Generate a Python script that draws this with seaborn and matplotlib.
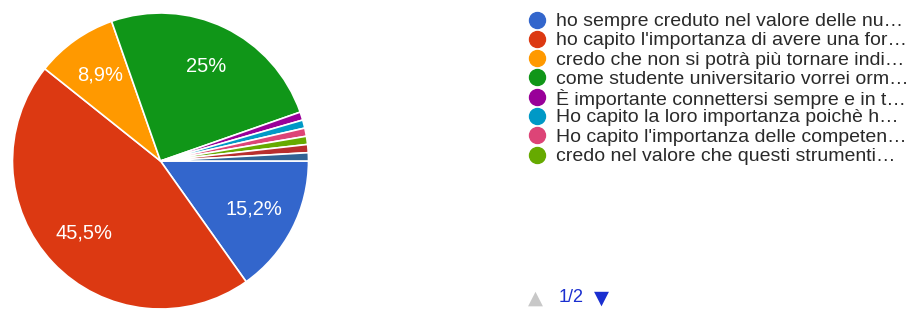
import matplotlib
matplotlib.use('Agg')
import matplotlib.pyplot as plt
from matplotlib.lines import Line2D
import seaborn as sns

# answers (legend page 1 of 2, truncated like the form summary)
labels = [
    'ho sempre creduto nel valore delle nu…',
    "ho capito l'importanza di avere una for…",
    'credo che non si potrà più tornare indi…',
    'come studente universitario vorrei orm…',
    'È importante connettersi sempre e in t…',
    'Ho capito la loro importanza poichè h…',
    "Ho capito l'importanza delle competen…",
    'credo nel valore che questi strumenti…',
    'risposta 9',
    'risposta 10',
]
counts = [17, 51, 10, 28, 1, 1, 1, 1, 1, 1]
colors = ['#3366cc', '#dc3912', '#ff9900', '#109618', '#990099',
          '#0099c6', '#dd4477', '#66aa00', '#b82e2e', '#316395']
legend_page = 8

sns.set_theme(style='white')
plt.rcParams['font.family'] = ['Liberation Sans', 'DejaVu Sans']

fig = plt.figure(figsize=(9.15, 3.09), dpi=100)
W, H = 915, 309

# pie area
cx, cy, r = 160.5, 161, 148
ax = fig.add_axes([(cx - r) / W, (H - cy - r) / H, 2 * r / W, 2 * r / H])


def pct_label(p):
    if p < 5:
        return ''
    s = f'{p:.1f}'
    if s.endswith('.0'):
        s = s[:-2]
    return s.replace('.', ',') + '%'


wedges, texts, autotexts = ax.pie(
    counts, colors=colors, startangle=0, counterclock=False,
    autopct=pct_label, pctdistance=0.71, radius=1,
    wedgeprops=dict(edgecolor='white', linewidth=1.2),
    textprops=dict(color='white', fontsize=14.5))
ax.set_xlim(-1, 1)
ax.set_ylim(-1, 1)
ax.set_aspect('equal')
ax.axis('off')

# legend, one row per answer
row0, pitch = 19.5, 19.3
for i, (lab, c) in enumerate(zip(labels[:legend_page], colors)):
    y = 1 - (row0 + i * pitch) / H
    fig.add_artist(Line2D([537 / W], [y], marker='o', linestyle='',
                          markersize=11.5, markerfacecolor=c,
                          markeredgecolor=c, transform=fig.transFigure))
    fig.text(556.5 / W, y, lab, fontsize=14, color='#2a2a2a',
             ha='left', va='center_baseline')

# page navigation
fig.text(535 / W, 1 - 298 / H, '▲', color='#c8c8c8', fontsize=14,
         ha='center', va='center', family=['DejaVu Sans'])
fig.text(559 / W, 1 - 298 / H, '1/2', color='#1a2fd0', fontsize=13,
         ha='left', va='center')
fig.text(601 / W, 1 - 298 / H, '▼', color='#1a2fd0', fontsize=14,
         ha='center', va='center', family=['DejaVu Sans'])

fig.savefig('out.png', dpi=100, facecolor='white')
